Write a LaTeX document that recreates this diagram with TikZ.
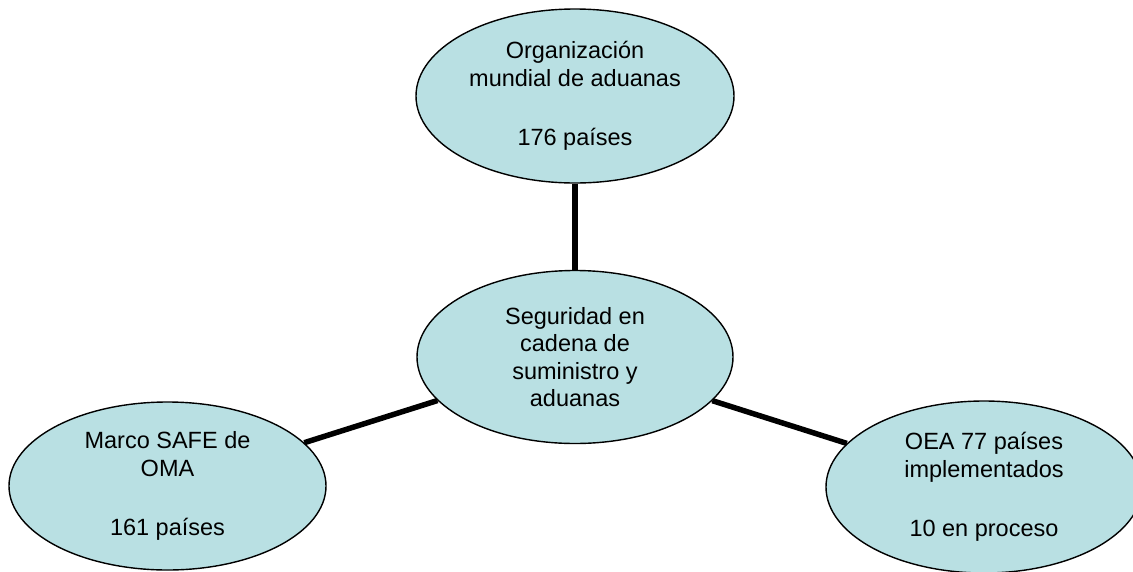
\documentclass[tikz,border=0pt]{standalone}
\usepackage{fontspec}
\setmainfont{Liberation Sans}
\usetikzlibrary{shapes.geometric}
\definecolor{bubble}{RGB}{185,224,227}
\begin{document}
\begin{tikzpicture}[x=1pt,y=-1pt,
  bubble/.style={ellipse,draw=black,line width=1.4pt,fill=bubble,inner sep=0pt,
    align=center,font=\fontsize{23.5}{27.5}\selectfont},
  link/.style={line width=5.5pt,black}]
\clip (0,0) rectangle (1133,571);
\fill[white] (0,0) rectangle (1133,571);
\node[bubble,minimum width=318pt,minimum height=174pt] (top) at (575,96)
  {Organización\\mundial de aduanas\\[32pt]176 países};
\node[bubble,minimum width=316pt,minimum height=173pt] (mid) at (575,357)
  {Seguridad en\\cadena de\\suministro y\\aduanas};
\node[bubble,minimum width=317pt,minimum height=168pt] (left) at (167.5,486)
  {Marco SAFE de\\OMA\\[32pt]161 países};
\node[bubble,minimum width=316pt,minimum height=172pt] (right) at (984,487)
  {OEA 77 países\\implementados\\[32pt]10 en proceso};
\draw[link] (top) -- (mid);
\draw[link] (left) -- (mid);
\draw[link] (right) -- (mid);
\end{tikzpicture}
\end{document}
